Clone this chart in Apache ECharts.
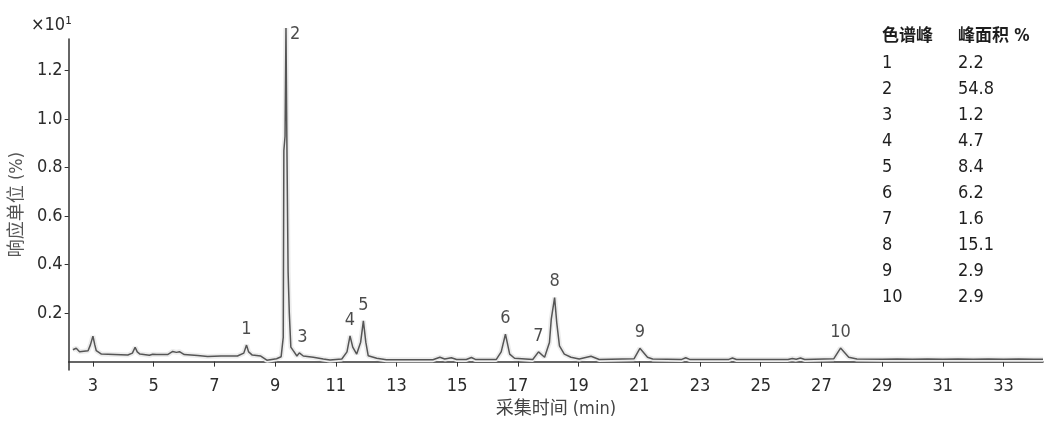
<!DOCTYPE html>
<html>
<head>
<meta charset="utf-8">
<script src="https://cdn.jsdelivr.net/npm/echarts@6/dist/echarts.min.js"></script>
<style>
    html, body {margin: 0; padding: 0; background: #fff;}
    #chart {width: 1044px; height: 423px;}
</style>
</head>
<body>
<div id="chart"></div>
<script>
// retention time (min) and response (x10^1 %)
var rtMin = [2.34, 2.45, 2.56, 2.84, 2.92, 3.00, 3.06, 3.11, 3.28, 3.71, 4.15, 4.30, 4.39, 4.46, 4.55,
    4.86, 4.97, 5.03, 5.10, 5.46, 5.63, 5.75, 5.85, 6.01, 6.45, 6.78, 7.22, 7.76, 7.97, 8.06, 8.13,
    8.25, 8.53, 8.73, 9.05, 9.20, 9.27, 9.29, 9.33, 9.36, 9.39, 9.43, 9.47, 9.52, 9.60, 9.72, 9.80,
    9.93, 10.26, 10.59, 10.81, 11.20, 11.37, 11.47, 11.56, 11.69, 11.82, 11.91, 11.99, 12.07, 12.35,
    12.67, 14.20, 14.43, 14.59, 14.81, 14.98, 15.30, 15.47, 15.60, 16.29, 16.45, 16.59, 16.73, 16.89,
    17.49, 17.68, 17.88, 18.04, 18.10, 18.21, 18.28, 18.37, 18.53, 18.75, 19.02, 19.41, 19.68, 20.83,
    21.02, 21.27, 21.44, 22.40, 22.53, 22.66, 23.95, 24.07, 24.20, 25.90, 26.04, 26.17, 26.31, 26.45,
    27.41, 27.63, 27.90, 28.17, 29.0, 29.5, 30.0, 30.5, 31.0, 31.5, 32.0, 32.5, 33.0, 33.5, 34.0, 34.3];
var response = [0.049, 0.055, 0.041, 0.045, 0.070, 0.105, 0.070, 0.045, 0.031, 0.029, 0.027, 0.035, 0.059, 0.040, 0.031,
    0.026, 0.030, 0.038, 0.029, 0.029, 0.042, 0.038, 0.041, 0.029, 0.025, 0.021, 0.023, 0.023, 0.035, 0.068, 0.040,
    0.027, 0.023, 0.006, 0.012, 0.020, 0.100, 0.870, 0.930, 1.375, 0.900, 0.370, 0.200, 0.060, 0.045, 0.023, 0.036,
    0.023, 0.018, 0.011, 0.007, 0.011, 0.040, 0.106, 0.060, 0.031, 0.080, 0.168, 0.080, 0.024, 0.014,
    0.008, 0.008, 0.018, 0.011, 0.016, 0.009, 0.009, 0.017, 0.009, 0.009, 0.040, 0.113, 0.031, 0.014,
    0.009, 0.040, 0.018, 0.079, 0.175, 0.264, 0.161, 0.065, 0.031, 0.018, 0.011, 0.022, 0.009, 0.012,
    0.055, 0.018, 0.011, 0.009, 0.016, 0.009, 0.009, 0.015, 0.009, 0.009, 0.013, 0.010, 0.015, 0.009,
    0.012, 0.056, 0.018, 0.011, 0.010, 0.011, 0.010, 0.011, 0.010, 0.011, 0.010, 0.011, 0.010, 0.011, 0.010, 0.010];

var peakNo = ['1', '2', '3', '4', '5', '6', '7', '8', '9', '10'];
var peakRt = [8.06, 9.36, 9.80, 11.47, 11.91, 16.59, 17.68, 18.21, 21.02, 27.63];
var peakTop = [0.068, 1.375, 0.036, 0.106, 0.168, 0.113, 0.040, 0.264, 0.055, 0.056];
var areaPct = ['2.2', '54.8', '1.2', '4.7', '8.4', '6.2', '1.6', '15.1', '2.9', '2.9'];

var xTicks = [3, 5, 7, 9, 11, 13, 15, 17, 19, 21, 23, 25, 27, 29, 31, 33];
var yTicks = [0.2, 0.4, 0.6, 0.8, 1.0, 1.2];

var font = '"Liberation Sans Narrow", "DejaVu Sans Condensed", "Noto Sans CJK SC", sans-serif';
var txt = '#2b2b2b';

var myChart = echarts.init(document.getElementById('chart'));

var trace = [];
for (var i = 0; i < rtMin.length; i++) {
    trace.push([rtMin[i], response[i]]);
}
var peaks = [];
for (var j = 0; j < peakNo.length; j++) {
    var item = {value: [peakRt[j], peakTop[j]], name: peakNo[j]};
    if (j === 1) {
        item.label = {position: 'right', distance: 4, offset: [0, 6]};
    } else if (j === 2) {
        item.label = {offset: [3, 0]};
    }
    peaks.push(item);
}

var option = {
    animation: false,
    grid: {left: 68, right: 1, top: 39, bottom: 52},
    xAxis: {
        type: 'value',
        min: 2.2,
        max: 34.3,
        name: '采集时间 (min)',
        nameLocation: 'middle',
        nameGap: 28,
        nameTextStyle: {fontFamily: font, fontSize: 18, color: '#444'},
        axisLine: {lineStyle: {color: '#333', width: 1.5}},
        axisTick: {customValues: xTicks, length: 5, lineStyle: {color: '#333'}},
        axisLabel: {customValues: xTicks, fontFamily: font, fontSize: 18, color: txt, margin: 7},
        splitLine: {show: false}
    },
    yAxis: {
        type: 'value',
        min: -0.035,
        max: 1.33,
        name: '响应单位 (%)',
        nameLocation: 'middle',
        nameGap: 40,
        nameTextStyle: {fontFamily: font, fontSize: 18, color: '#555'},
        axisLine: {show: true, lineStyle: {color: '#333', width: 1.5}},
        axisTick: {show: true, customValues: yTicks, length: 4, lineStyle: {color: '#333'}},
        axisLabel: {
            customValues: yTicks, fontFamily: font, fontSize: 18, color: txt, margin: 6,
            formatter: function (v) { return v.toFixed(1); }
        },
        splitLine: {show: false}
    },
    graphic: [
        {
            type: 'text', left: 31, top: 16,
            style: {text: '×10¹', font: '18px ' + font, fill: txt}
        },
        {
            type: 'text', left: 882, top: 24,
            style: {
                text: '{h|色谱峰}\n' + peakNo.join('\n'),
                font: '18px ' + font, fill: '#1e1e1e', lineHeight: 26,
                rich: {h: {fontWeight: 'bold', fontSize: 17, fontFamily: font, lineHeight: 26}}
            }
        },
        {
            type: 'text', left: 958, top: 24,
            style: {
                text: '{h|峰面积 %}\n' + areaPct.join('\n'),
                font: '18px ' + font, fill: '#1e1e1e', lineHeight: 26,
                rich: {h: {fontWeight: 'bold', fontSize: 17, fontFamily: font, lineHeight: 26}}
            }
        }
    ],
    series: [
        {
            type: 'line', data: trace, showSymbol: false, clip: false, silent: true,
            lineStyle: {color: '#ececec', width: 5}
        },
        {
            type: 'line', data: trace, showSymbol: false, clip: false,
            lineStyle: {color: '#555', width: 1.5}
        },
        {
            type: 'scatter', data: peaks, symbolSize: 0, clip: false,
            label: {
                show: true, position: 'top', distance: 7,
                formatter: '{b}', fontFamily: font, fontSize: 18, color: '#1e1e1e'
            }
        }
    ]
};

myChart.setOption(option);
</script>
</body>
</html>
